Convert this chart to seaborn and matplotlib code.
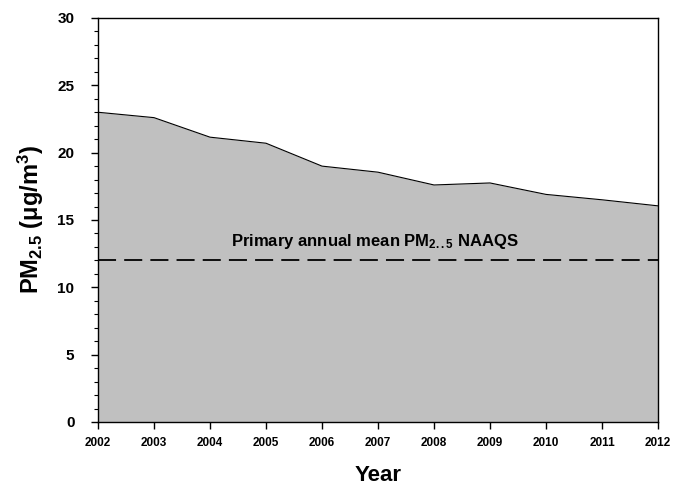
import matplotlib
matplotlib.use("Agg")
import matplotlib.pyplot as plt
import numpy as np
import pandas as pd
import seaborn as sns

# annual mean PM2.5
years = [2002, 2003, 2004, 2005, 2006, 2007, 2008, 2009, 2010, 2011, 2012]
pm25 = [23.0, 22.6, 21.15, 20.7, 19.0, 18.55, 17.6, 17.75, 16.9, 16.5, 16.05]
naaqs = 12

df = pd.DataFrame({"year": years, "pm25": pm25})

sns.set_style("ticks")
plt.rcParams["font.family"] = ["Liberation Sans", "DejaVu Sans"]
plt.rcParams["text.color"] = "black"
plt.rcParams["axes.labelcolor"] = "black"
plt.rcParams["xtick.color"] = "black"
plt.rcParams["ytick.color"] = "black"
plt.rcParams["mathtext.fontset"] = "custom"
plt.rcParams["mathtext.rm"] = "Liberation Sans:bold"
plt.rcParams["mathtext.it"] = "Liberation Sans:bold"
plt.rcParams["mathtext.bf"] = "Liberation Sans:bold"

fig = plt.figure(figsize=(6.83, 4.86), dpi=100)
ax = fig.add_axes([0.1435, 0.1317, 0.8199, 0.8313])

ax.fill_between(df["year"], 0, df["pm25"], color="#c0c0c0", linewidth=0, zorder=1)
sns.lineplot(data=df, x="year", y="pm25", color="black", linewidth=0.8, ax=ax, zorder=2)
ax.axhline(naaqs, color="black", linewidth=1.3, dashes=(10, 4.5), zorder=3)
ax.text(2006.95, naaqs + 0.7, r"Primary annual mean PM$_{2..5}$ NAAQS",
        ha="center", va="bottom", fontsize=12, fontweight="bold")

ax.set_xlim(2002, 2012)
ax.set_ylim(0, 30)
ax.set_xticks(years)
ax.set_xticklabels([str(y) for y in years], fontsize=8.5, fontweight="bold")
ax.set_yticks(np.arange(0, 31, 5))
ax.set_yticks(np.arange(0, 31, 1), minor=True)
ax.set_yticklabels([str(v) for v in range(0, 31, 5)], fontsize=11, fontweight="bold")
ax.tick_params(axis="both", which="major", direction="out", length=5, width=1)
ax.tick_params(axis="x", which="major", pad=6)
ax.tick_params(axis="y", which="major", pad=12)
ax.tick_params(axis="y", which="minor", direction="out", length=3, width=0.8)

for s in ax.spines.values():
    s.set_linewidth(1.0)
    s.set_color("black")

ax.set_xlabel("Year", fontsize=16, fontweight="bold", labelpad=11)
ax.set_ylabel(r"PM$_{2.5}$ ($\mu$g/m$^3$)", fontsize=17, fontweight="bold", labelpad=8)

fig.savefig("out.png", dpi=100)
